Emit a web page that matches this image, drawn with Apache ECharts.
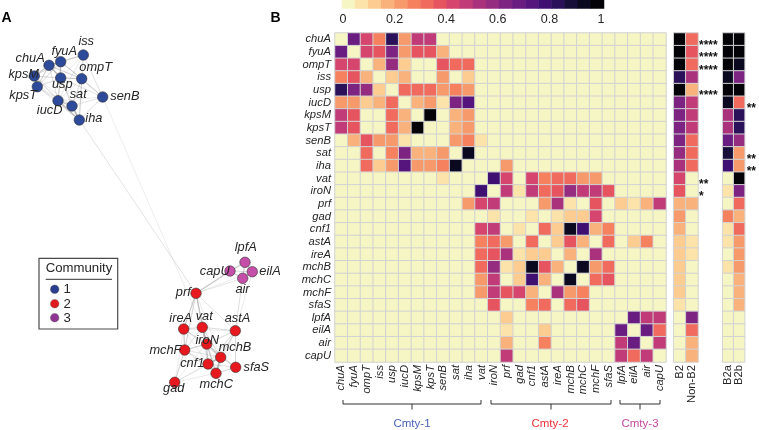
<!DOCTYPE html>
<html><head><meta charset="utf-8">
<script src="https://cdn.jsdelivr.net/npm/echarts@6/dist/echarts.min.js"></script>
<style>html,body{margin:0;padding:0;background:#fff}#c{width:759px;height:430px}</style>
</head><body><div id="c"></div>
<script>
// ---------------- DATA ----------------
const genes = ['chuA','fyuA','ompT','iss','usp','iucD','kpsM','kpsT','senB','sat','iha','vat','iroN','prf','gad','cnf1','astA','ireA','mchB','mchC','mchF','sfaS','lpfA','eilA','air','capU'];
const community = [1,1,1,1,1,1,1,1,1,1,1,2,2,2,2,2,2,2,2,2,2,2,3,3,3,3];
// correlation matrix rows (one row per gene, columns in genes order)
const rowChuA = [0,.67,.41,.27,.82,.22,.47,.47,0,0,0,0,0,0,0,0,0,0,0,0,0,0,0,0,0,0];
const rowFyuA = [.67,0,.41,.37,.62,.22,.37,.37,.17,0,0,0,0,0,0,0,0,0,0,0,0,0,0,0,0,0];
const rowOmpT = [.41,.41,0,.17,.57,.12,0,0,.37,.32,.32,0,0,0,0,0,0,0,0,0,0,0,0,0,0,0];
const rowIss  = [.27,.37,.17,0,.12,.17,0,0,.22,0,.12,0,0,0,0,0,0,0,0,0,0,0,0,0,0,0];
const rowUsp  = [.82,.64,.57,.12,0,.32,.32,.32,.24,.28,.22,0,0,0,0,0,0,0,0,0,0,0,0,0,0,0];
const rowIucD = [.22,.22,.12,.17,.32,0,.17,.22,.07,.64,.72,0,0,0,0,0,0,0,0,0,0,0,0,0,0,0];
const rowKpsM = [.47,.37,0,0,.32,.17,0,.97,0,.17,.22,0,0,0,0,0,0,0,0,0,0,0,0,0,0,0];
const rowKpsT = [.47,.37,0,0,.32,.17,.97,0,0,.17,.22,0,0,0,0,0,0,0,0,0,0,0,0,0,0,0];
const rowSenB = [0,.17,.37,.22,.24,.07,0,0,0,.22,.27,.07,0,0,0,0,0,0,0,0,0,0,0,0,0,0];
const rowSat  = [0,0,.32,0,.28,.64,.17,.17,.22,0,.92,0,0,0,0,0,0,0,0,0,0,0,0,0,0,0];
const rowIha  = [0,0,.32,.12,.22,.72,.22,.22,.27,.92,0,0,0,.22,0,0,0,0,0,0,0,0,0,0,0,0];
const rowVat  = [0,0,0,0,0,0,0,0,.07,0,0,0,.77,.41,0,.41,.27,.32,.32,.22,.22,0,0,0,0,0];
const rowIroN = [0,0,0,0,0,0,0,0,0,0,0,.77,0,.47,.07,.47,.32,.37,.57,.47,.47,.37,0,0,0,0];
const rowPrf  = [0,0,0,0,0,0,0,0,0,0,.22,.41,.47,0,0,0,.22,.52,.07,0,.37,0,.12,.07,.17,.47];
const rowGad  = [0,0,0,0,0,0,0,0,0,0,0,0,.07,0,0,.07,0,.07,.12,.12,.42,0,0,0,0,0];
const rowCnf1 = [0,0,0,0,0,0,0,0,0,0,0,.41,.47,0,.07,0,.32,.12,.92,.77,.17,.27,0,0,0,0];
const rowAstA = [0,0,0,0,0,0,0,0,0,0,0,.27,.32,.22,0,.32,0,.12,.37,.17,0,.32,0,.12,.27,0];
const rowIreA = [0,0,0,0,0,0,0,0,0,0,0,.32,.37,.52,.07,.12,.12,0,.17,0,.52,0,0,0,0,0];
const rowMchB = [0,0,0,0,0,0,0,0,0,0,0,.32,.57,.07,.12,.92,.37,.17,0,.92,.22,.32,0,0,0,0];
const rowMchC = [0,0,0,0,0,0,0,0,0,0,0,.22,.47,0,.12,.77,.17,0,.92,0,.32,.37,0,0,0,0];
const rowMchF = [0,0,0,0,0,0,0,0,0,0,0,.22,.47,.37,.42,.17,0,.52,.22,.27,0,0,0,0,0,0];
const rowSfaS = [0,0,0,0,0,0,0,0,0,0,0,0,.37,0,0,.27,.32,0,.32,.37,0,0,0,0,0,0];
const rowLpfA = [0,0,0,0,0,0,0,0,0,0,0,0,0,.12,0,0,0,0,0,0,0,0,0,.67,.47,.47];
const rowEilA = [0,0,0,0,0,0,0,0,0,0,0,0,0,.07,0,0,.12,0,0,0,0,0,.67,0,.67,.32];
const rowAir  = [0,0,0,0,0,0,0,0,0,0,0,0,0,.17,0,0,.27,0,0,0,0,0,.47,.67,0,.47];
const rowCapU = [0,0,0,0,0,0,0,0,0,0,0,0,0,.47,0,0,0,0,0,0,0,0,.47,.32,.47,0];
const corr = [rowChuA,rowFyuA,rowOmpT,rowIss,rowUsp,rowIucD,rowKpsM,rowKpsT,rowSenB,rowSat,rowIha,rowVat,rowIroN,rowPrf,rowGad,rowCnf1,rowAstA,rowIreA,rowMchB,rowMchC,rowMchF,rowSfaS,rowLpfA,rowEilA,rowAir,rowCapU];
// phylogroup prevalence columns
const b2Cols = ['B2','Non-B2'];
const b2     = [.97,.97,.97,.82,.97,.62,.62,.62,.62,.57,.52,.41,.37,.17,.22,.17,.12,.12,.12,.12,.12,.07,0,0,0,0];
const nonB2  = [.34,.36,.31,.5,.17,.47,.47,.47,.32,.32,.32,0,0,.17,0,0,.07,.07,0,0,0,0,.62,.34,.17,.17];
const b2abCols = ['B2a','B2b'];
const b2a    = [.97,.97,.97,.92,.97,.92,.5,.5,.67,.87,.77,0,.07,0,.27,.07,.07,0,.07,0,0,0,0,0,0,0];
const b2b    = [.97,.97,.92,.62,.97,.34,.82,.82,.57,.22,.22,.97,.62,.34,.17,.32,.22,.22,.22,.17,.17,.17,0,0,0,0];
const sigB2   = ['****','****','****','','****','','','','','','','**','*','','','','','','','','','','','','',''];
const sigB2ab = ['','','','','','**','','','','**','**','','','','','','','','','','','','','','',''];
// colour bar bins and ticks
const colorbarBins = [.025,.075,.125,.175,.225,.275,.325,.375,.425,.475,.525,.575,.625,.675,.725,.775,.825,.875,.925,.975];
// network layout coordinates (layout units) for panel A
const netX = [49,60.7,81.7,83.3,60.7,58,34.3,37.3,102.7,72,79.3,202.3,206.7,196,174.7,208,235.3,183.7,220.7,216,184.7,235.7,245,252.3,242.7,230];
const netY = [65.3,61.7,78.7,55,78,100.7,76,86.7,97,106,120,327.3,344,293.3,382.3,364,330.7,329,357.3,373.3,350,367.3,262.3,271.7,278.3,271];

// ---------------- STYLE ----------------
const palette = ['#f6f5c4','#fbe3a9','#fccc91','#f9b27b','#f79a6b','#f5815f','#f06a5d','#e6555f','#d5456d','#c03b77','#aa327c','#952c80','#7d2482','#691d80','#56157c','#3f1071','#2a1159','#170e39','#0b0920','#030308'];
const commColor = {1:'#2d4a9b',2:'#e8191e',3:'#c44ea8'};
const legendColor = {1:'#2a3c8e',2:'#e0191f',3:'#8d3591'};
const labelPlace = {
  chuA:['left',1.25,-7], fyuA:['top',3.5,2], ompT:['top',14,0.5], iss:['top',2.9,-1.5], usp:['bottom',1.5,-5.7],
  iucD:['left',10,9.3], kpsM:['left',10.25,-2], kpsT:['left',5.25,9], senB:['right',2,-0.3], sat:['top',6.2,0.8],
  iha:['right',0.5,-1.3], vat:['top',1.9,1], iroN:['inside',0.5,-3.3], prf:['left',0.25,-0.6], gad:['bottom',-0.9,-5.5],
  cnf1:['left',1.95,-0.3], astA:['top',2.2,0], ireA:['top',-3,1], mchB:['top',14.3,2.5], mchC:['bottom',0.2,-0.7],
  mchF:['left',2.25,0], sfaS:['right',2.3,0.4], lpfA:['top',0.8,-3], eilA:['right',1.5,0], air:['bottom',-0.2,-1], capU:['left',5.25,0]
};
const FONT = 'Arial, "Liberation Sans", Helvetica, sans-serif';
const txt = '#262626';

// ---------------- BUILD ----------------
const mainData = [];
corr.forEach((row, r) => row.forEach((v, c) => mainData.push([c, r, v])));
const b2Data = [], b2abData = [];
genes.forEach((g, r) => {
  b2Data.push([0, r, b2[r]]); b2Data.push([1, r, nonB2[r]]);
  b2abData.push([0, r, b2a[r]]); b2abData.push([1, r, b2b[r]]);
});
const cbData = colorbarBins.map((v, i) => [i, 0, v]);

const pieces = palette.map((col, i) => i < 19 ? {gte: i/20, lt: (i+1)/20, color: col} : {gte: i/20, lte: 1.01, color: col});

const nodes = genes.map((g, i) => {
  const p = labelPlace[g];
  return {
    name: g, x: netX[i], y: netY[i],
    itemStyle: {color: commColor[community[i]], borderColor: '#333', borderWidth: 0.6},
    label: {show: true, position: p[0], offset: [p[1], p[2]], distance: 0}
  };
});
const links = [];
for (let i = 0; i < genes.length; i++) for (let j = i + 1; j < genes.length; j++) {
  const v = Math.max(corr[i][j], corr[j][i]);
  if (v > 0) links.push({source: genes[i], target: genes[j], lineStyle: {width: 0.5 + 1.2 * v, opacity: 0.3 + 0.55 * v}});
}

const grids = [
  {left: 335, top: 33, width: 331, height: 329},       // 0 main heatmap
  {left: 673.7, top: 33, width: 24.3, height: 329},    // 1 B2 / Non-B2
  {left: 722.7, top: 33, width: 24.3, height: 329},    // 2 B2a / B2b
  {left: 342, top: 0, width: 262, height: 8.5},        // 3 colour bar
  {left: 343, top: 0, width: 258, height: 8.5}         // 4 colour bar ticks
];
const geneLabel = {fontFamily: FONT, fontSize: 11.2, fontStyle: 'italic', color: txt};
const hidden = {axisLine: {show: false}, axisTick: {show: false}, splitLine: {show: false}};

const option = {
  animation: false,
  backgroundColor: '#fff',
  grid: grids,
  xAxis: [
    Object.assign({type: 'category', gridIndex: 0, data: genes, position: 'bottom', axisLabel: Object.assign({rotate: 90, margin: 3, interval: 0}, geneLabel)}, hidden),
    Object.assign({type: 'category', gridIndex: 1, data: b2Cols, position: 'bottom', axisLabel: {rotate: 90, margin: 3, interval: 0, fontFamily: FONT, fontSize: 11.2, color: txt}}, hidden),
    Object.assign({type: 'category', gridIndex: 2, data: b2abCols, position: 'bottom', axisLabel: {rotate: 90, margin: 3, interval: 0, fontFamily: FONT, fontSize: 11.2, color: txt}}, hidden),
    Object.assign({type: 'category', gridIndex: 3, data: colorbarBins.map(String), axisLabel: {show: false}}, hidden),
    Object.assign({type: 'value', gridIndex: 4, min: 0, max: 1, interval: 0.2, position: 'bottom', axisLabel: {margin: 5, fontFamily: FONT, fontSize: 12.5, color: txt}}, hidden)
  ],
  yAxis: [
    Object.assign({type: 'category', gridIndex: 0, data: genes, inverse: true, axisLabel: Object.assign({margin: 4, interval: 0}, geneLabel)}, hidden),
    Object.assign({type: 'category', gridIndex: 1, data: genes, inverse: true, position: 'right',
      axisLabel: {margin: 1, interval: 0, fontFamily: FONT, fontSize: 12, fontWeight: 'bold', color: '#111', verticalAlign: 'top', lineHeight: 12,
        formatter: (v) => sigB2[genes.indexOf(v)]}}, hidden),
    Object.assign({type: 'category', gridIndex: 2, data: genes, inverse: true, position: 'right',
      axisLabel: {margin: 2, interval: 0, fontFamily: FONT, fontSize: 12, fontWeight: 'bold', color: '#111', verticalAlign: 'top', lineHeight: 12,
        formatter: (v) => sigB2ab[genes.indexOf(v)]}}, hidden),
    Object.assign({type: 'category', gridIndex: 3, data: ['cb'], axisLabel: {show: false}}, hidden),
    Object.assign({type: 'value', gridIndex: 4, axisLabel: {show: false}}, hidden)
  ],
  visualMap: {type: 'piecewise', show: false, dimension: 2, seriesIndex: [0, 1, 2, 3], pieces: pieces},
  series: [
    {type: 'heatmap', xAxisIndex: 0, yAxisIndex: 0, data: mainData, itemStyle: {borderColor: '#d2d2d2', borderWidth: 1}, emphasis: {disabled: true}},
    {type: 'heatmap', xAxisIndex: 1, yAxisIndex: 1, data: b2Data, itemStyle: {borderColor: '#d2d2d2', borderWidth: 1}, emphasis: {disabled: true}},
    {type: 'heatmap', xAxisIndex: 2, yAxisIndex: 2, data: b2abData, itemStyle: {borderColor: '#d2d2d2', borderWidth: 1}, emphasis: {disabled: true}},
    {type: 'heatmap', xAxisIndex: 3, yAxisIndex: 3, data: cbData, itemStyle: {borderWidth: 0}, emphasis: {disabled: true}},
    {type: 'graph', layout: 'none', left: 34.3, top: 55, width: 218, height: 327.3, roam: false,
      symbol: 'circle', symbolSize: 10.5, data: nodes, links: links,
      lineStyle: {color: '#a4a4a4', curveness: 0},
      label: {fontFamily: FONT, fontSize: 12.8, fontStyle: 'italic', color: txt},
      emphasis: {disabled: true}, silent: true}
  ],
  graphic: [
    {type: 'text', x: 6.5, y: 18, style: {text: 'A', font: 'bold 14px ' + FONT, fill: '#000', align: 'center', verticalAlign: 'middle'}},
    {type: 'text', x: 275.5, y: 18, style: {text: 'B', font: 'bold 14px ' + FONT, fill: '#000', align: 'center', verticalAlign: 'middle'}},
    // community legend box
    {type: 'rect', shape: {x: 39, y: 258.3, width: 78.7, height: 70.7}, style: {fill: '#fff', stroke: '#4a4a4a', lineWidth: 1.2}},
    {type: 'text', x: 79, y: 268.7, style: {text: 'Community', font: '13.2px ' + FONT, fill: txt, align: 'center', verticalAlign: 'middle'}},
    {type: 'line', shape: {x1: 45.7, y1: 279.3, x2: 112, y2: 279.3}, style: {stroke: '#333', lineWidth: 1}},
    {type: 'circle', shape: {cx: 54.7, cy: 289.3, r: 4.3}, style: {fill: legendColor[1], stroke: '#555', lineWidth: 0.4}},
    {type: 'circle', shape: {cx: 54.7, cy: 303.7, r: 4.3}, style: {fill: legendColor[2], stroke: '#555', lineWidth: 0.4}},
    {type: 'circle', shape: {cx: 54.7, cy: 317.7, r: 4.3}, style: {fill: legendColor[3], stroke: '#555', lineWidth: 0.4}},
    {type: 'text', x: 63.5, y: 289.8, style: {text: '1', font: '13.2px ' + FONT, fill: txt, verticalAlign: 'middle'}},
    {type: 'text', x: 63.5, y: 304.2, style: {text: '2', font: '13.2px ' + FONT, fill: txt, verticalAlign: 'middle'}},
    {type: 'text', x: 63.5, y: 318.2, style: {text: '3', font: '13.2px ' + FONT, fill: txt, verticalAlign: 'middle'}},
    // community brackets
    {type: 'polyline', shape: {points: [[343,400],[343,404],[481,404],[481,400]]}, style: {stroke: '#333', fill: null, lineWidth: 1}},
    {type: 'line', shape: {x1: 412, y1: 404, x2: 412, y2: 409.5}, style: {stroke: '#333', lineWidth: 1}},
    {type: 'polyline', shape: {points: [[491,400],[491,404],[611,404],[611,400]]}, style: {stroke: '#333', fill: null, lineWidth: 1}},
    {type: 'line', shape: {x1: 551, y1: 404, x2: 551, y2: 409.5}, style: {stroke: '#333', lineWidth: 1}},
    {type: 'polyline', shape: {points: [[620,400],[620,404],[660,404],[660,400]]}, style: {stroke: '#333', fill: null, lineWidth: 1}},
    {type: 'line', shape: {x1: 640, y1: 404, x2: 640, y2: 409.5}, style: {stroke: '#333', lineWidth: 1}},
    {type: 'text', x: 412, y: 423.5, style: {text: 'Cmty-1', font: '11.5px ' + FONT, fill: '#4a62b8', align: 'center', verticalAlign: 'middle'}},
    {type: 'text', x: 550, y: 423.5, style: {text: 'Cmty-2', font: '11.5px ' + FONT, fill: '#ec3136', align: 'center', verticalAlign: 'middle'}},
    {type: 'text', x: 640, y: 423.5, style: {text: 'Cmty-3', font: '11.5px ' + FONT, fill: '#c6479f', align: 'center', verticalAlign: 'middle'}}
  ]
};
const chart = echarts.init(document.getElementById('c'), null, {renderer: 'canvas'});
chart.setOption(option);
</script>
</body></html>
